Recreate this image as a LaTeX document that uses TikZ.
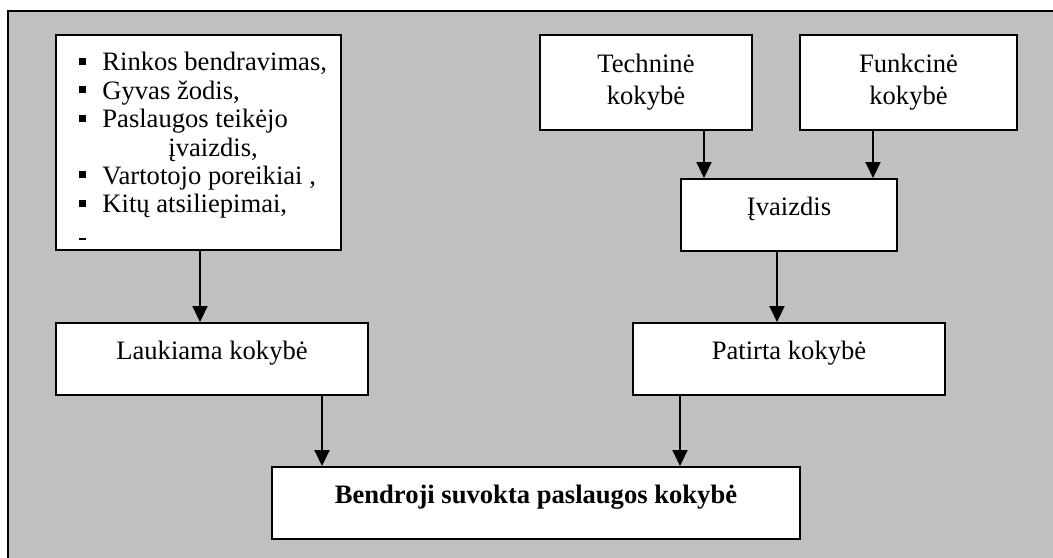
\documentclass[tikz,border=0pt]{standalone}
\usepackage{fontspec}
\setmainfont{Liberation Serif}
\usetikzlibrary{arrows.meta}
\definecolor{bggray}{HTML}{C0C0C0}
\newcommand{\sqb}{\makebox[11.5pt][l]{\rule[3pt]{3.5pt}{3.5pt}}}
\tikzset{
  box/.style={draw, line width=1pt, fill=white, inner sep=0pt,
    font=\fontsize{13.3}{16}\selectfont, align=center},
  onebox/.style={box, text height=4pt, text depth=4pt},
  arr/.style={line width=1pt, -{Triangle[length=8pt,width=7.5pt]}}
}
\begin{document}
\begin{tikzpicture}[x=0.5pt,y=-0.5pt]
    \useasboundingbox (0,0) rectangle (1053,557);
    \clip (0,0) rectangle (1053,557);
    \draw[line width=1.2pt, fill=bggray] (8,11) rectangle (1080,590);
    % left branch
    \node[box, minimum width=142.5pt, minimum height=107.5pt] (lst) at (198.5,142.5) {};
    \node[anchor=north west, align=left, inner sep=0pt,
      font=\fontsize{13.3}{14.2}\selectfont] (lsttxt) at (79,52)
      {\sqb Rinkos bendravimas,\\
       \sqb Gyvas žodis,\\
       \sqb Paslaugos teikėjo\\
       \hspace*{44.5pt}įvaizdis,\\
       \sqb Vartotojo poreikiai ,\\
       \sqb Kitų atsiliepimai,};
    \fill (79,238) rectangle (86,240);
    \node[onebox, minimum width=156pt, minimum height=36pt] (lauk) at (212,359) {Laukiama kokybė};
    % right branch
    \node[box, minimum width=106pt, minimum height=47.5pt] (tech) at (646,82.5) {Techninė\\kokybė};
    \node[box, minimum width=108.5pt, minimum height=47.5pt] (func) at (908.5,82.5) {Funkcinė\\kokybė};
    \node[onebox, minimum width=108pt, minimum height=36pt] (ivz) at (789,215) {Įvaizdis};
    \node[onebox, minimum width=156pt, minimum height=36pt] (pat) at (789,359) {Patirta kokybė};
    % bottom
    \node[onebox, minimum width=264pt, minimum height=36pt, font=\fontsize{13.3}{16}\selectfont\bfseries] (bend) at (536,503) {Bendroji suvokta paslaugos kokybė};
    % arrows
    \draw[arr] ([xshift=0.75pt]lst.south) -- ([xshift=0.75pt]lst.south |- lauk.north);
    \draw[arr] ([xshift=12pt]ivz.north west |- tech.south) -- ([xshift=12pt]ivz.north west);
    \draw[arr] ([xshift=-12.5pt]ivz.north east |- func.south) -- ([xshift=-12.5pt]ivz.north east);
    \draw[arr] ([xshift=-6pt]ivz.south) -- ([xshift=-6pt]ivz.south |- pat.north);
    \draw[arr] ([xshift=-23.5pt]lauk.south east) -- ([xshift=-23.5pt]lauk.south east |- bend.north);
    \draw[arr] ([xshift=24pt]pat.south west) -- ([xshift=24pt]pat.south west |- bend.north);
\end{tikzpicture}
\end{document}
